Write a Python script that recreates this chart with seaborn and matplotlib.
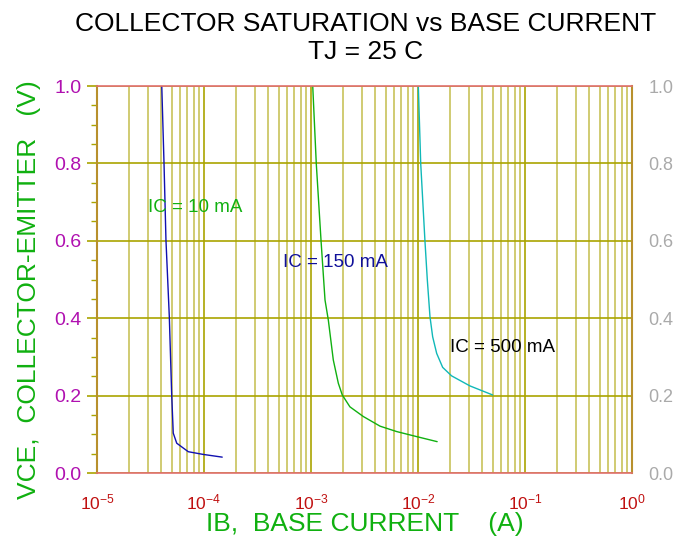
import numpy as np
import pandas as pd
import matplotlib
matplotlib.use("Agg")
import matplotlib.pyplot as plt
import seaborn as sns
from matplotlib.ticker import LogLocator, MultipleLocator

# Data
ib_10ma = [4.03e-5, 4.23e-5, 4.41e-5, 4.74e-5, 4.99e-5, 5.16e-5, 5.56e-5, 7.13e-5, 9.84e-5, 1.48e-4]
vce_10ma = [1.0, 0.80, 0.602, 0.404, 0.202, 0.103, 0.077, 0.055, 0.048, 0.041]

ib_150ma = [1.038e-3, 1.12e-3, 1.24e-3, 1.352e-3, 1.452e-3, 1.616e-3, 1.80e-3, 1.96e-3,
            2.31e-3, 3.08e-3, 4.42e-3, 6.33e-3, 9.73e-3, 1.51e-2]
vce_150ma = [1.0, 0.80, 0.602, 0.447, 0.395, 0.292, 0.232, 0.2016,
             0.171, 0.146, 0.121, 0.107, 0.094, 0.081]

ib_500ma = [1.007e-2, 1.06e-2, 1.16e-2, 1.222e-2, 1.294e-2, 1.371e-2, 1.495e-2, 1.70e-2,
            2.06e-2, 3.06e-2, 4.99e-2]
vce_500ma = [1.0, 0.80, 0.602, 0.499, 0.404, 0.352, 0.309, 0.273,
             0.251, 0.225, 0.2016]

curve_labels = ["IC = 10 mA", "IC = 150 mA", "IC = 500 mA"]
curve_colors = ["#1010b0", "#10b010", "#10b8b8"]
label_colors = ["#10b010", "#10109a", "#000000"]
label_pos = [(3.0e-5, 0.685), (5.47e-4, 0.545), (1.99e-2, 0.323)]

y_ticks = [0.0, 0.2, 0.4, 0.6, 0.8, 1.0]
y_ticklabels = ["0.0", "0.2", "0.4", "0.6", "0.8", "1.0"]

title = "COLLECTOR SATURATION vs BASE CURRENT\nTJ = 25 C"
xlabel = "IB,  BASE CURRENT    (A)"
ylabel = "VCE,  COLLECTOR-EMITTER   (V)"

sns.set_style("white")
plt.rcParams["font.family"] = ["Liberation Sans", "DejaVu Sans"]
plt.rcParams["mathtext.fontset"] = "custom"
plt.rcParams["mathtext.rm"] = "Liberation Sans"

fig = plt.figure(figsize=(6.77, 5.36), dpi=100)
ax = fig.add_axes([97/677, 63/536, 535/677, 387/536])

grid_minor = "#c8c25a"
grid_major = "#aaa400"

ax.set_xscale("log")
ax.set_xlim(1e-5, 1.0)
ax.set_ylim(0.0, 1.0)

ax.xaxis.set_major_locator(LogLocator(base=10, numticks=10))
ax.xaxis.set_minor_locator(LogLocator(base=10, subs=np.arange(2, 10), numticks=20))
ax.yaxis.set_major_locator(MultipleLocator(0.2))
ax.yaxis.set_minor_locator(MultipleLocator(0.05))
ax.grid(True, which="major", axis="x", color=grid_major, lw=1.2)
ax.grid(True, which="minor", axis="x", color=grid_minor, lw=1.2)
ax.grid(True, which="major", axis="y", color=grid_major, lw=1.2)
ax.set_axisbelow(True)

datasets = [(ib_10ma, vce_10ma), (ib_150ma, vce_150ma), (ib_500ma, vce_500ma)]
for (xs, ys), c in zip(datasets, curve_colors):
    df = pd.DataFrame({"ib": xs, "vce": ys})
    sns.lineplot(data=df, x="ib", y="vce", ax=ax, color=c, lw=1.0, sort=False, estimator=None)

for lab, (lx, ly), lc in zip(curve_labels, label_pos, label_colors):
    ax.text(lx, ly, lab, color=lc, fontsize=13.5, ha="left", va="center")

for s in ["top", "bottom"]:
    ax.spines[s].set_color("#e07070")
    ax.spines[s].set_linewidth(1.2)
for s in ["left", "right"]:
    ax.spines[s].set_color("#b8902c")
    ax.spines[s].set_linewidth(1.5)

ax.tick_params(axis="y", which="major", direction="out", length=7, width=1.2, color=grid_major,
               labelsize=14, labelcolor="#b010b0", left=True, right=True, labelright=False, pad=4)
ax.tick_params(axis="y", which="minor", direction="out", length=4, width=1.0, color=grid_major,
               left=True, right=True)
ax.tick_params(axis="x", which="both", length=0, labelsize=12.5, labelcolor="#c01010", pad=14)
ax.set_yticks(y_ticks)
ax.set_yticklabels(y_ticklabels)

ax2 = ax.twinx()
ax2.set_ylim(0.0, 1.0)
ax2.set_yticks(y_ticks)
ax2.set_yticklabels(y_ticklabels)
ax2.tick_params(axis="y", length=0, labelsize=13, labelcolor="#aaaaaa", pad=12)
for s in ax2.spines.values():
    s.set_visible(False)

ax.set_xlabel(xlabel, color="#10b010", fontsize=19, labelpad=0)
ax.set_ylabel(ylabel, color="#10b010", fontsize=19)
ax.yaxis.set_label_coords(-0.105, 0.473)
fig.suptitle(title, fontsize=19, color="black", x=0.54, y=0.978, linespacing=1.2)

fig.savefig("out.png", dpi=100)
